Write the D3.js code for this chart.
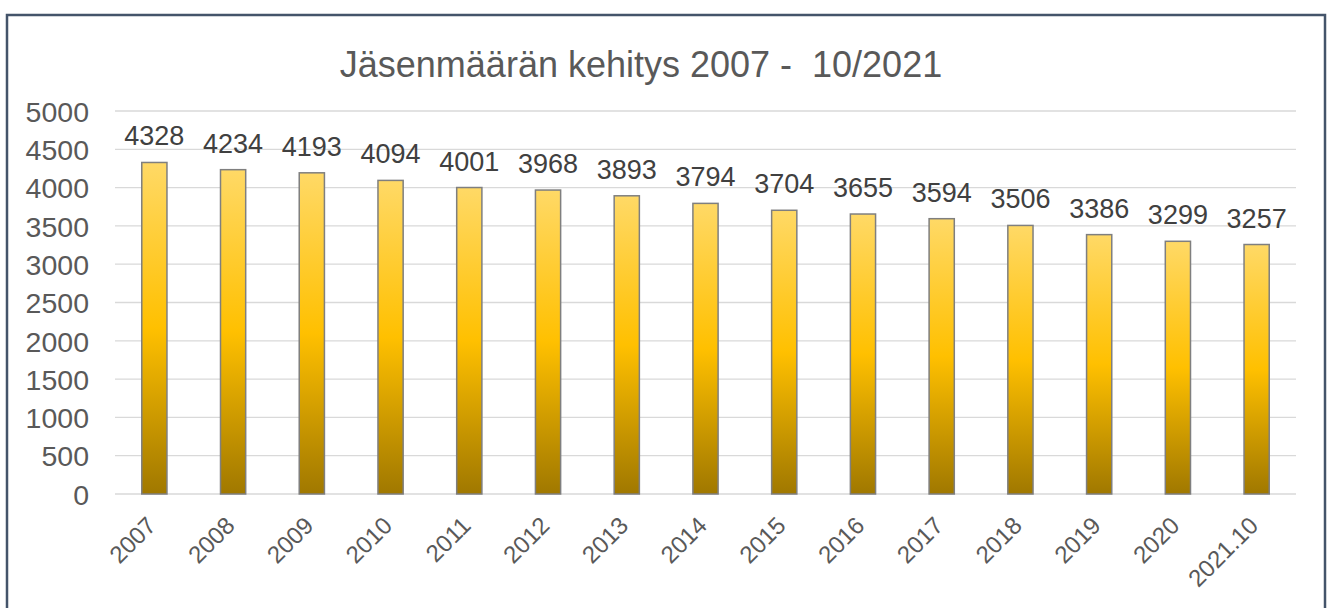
<!DOCTYPE html>
<html>
<head>
<meta charset="utf-8">
<script src="https://cdn.jsdelivr.net/npm/d3@7"></script>
<style>
  body { margin: 0; background: #fff; }
  svg { display: block; font-family: "Liberation Sans", Arial, sans-serif; }
</style>
</head>
<body>
<svg id="chart" width="1331" height="608"></svg>
<script>
// chart data
const years = ["2007", "2008", "2009", "2010", "2011", "2012", "2013", "2014", "2015", "2016", "2017", "2018", "2019", "2020", "2021.10"];
const members = [4328, 4234, 4193, 4094, 4001, 3968, 3893, 3794, 3704, 3655, 3594, 3506, 3386, 3299, 3257];
const yTicks = [0, 500, 1000, 1500, 2000, 2500, 3000, 3500, 4000, 4500, 5000];

const svg = d3.select("#chart");
const fontFam = "Liberation Sans, Arial, sans-serif";

// frame
svg.append("rect")
  .attr("x", 7).attr("y", 15)
  .attr("width", 1318).attr("height", 620)
  .attr("fill", "#fff")
  .attr("stroke", "#44546a")
  .attr("stroke-width", 2.5);

const plotLeft = 115, plotRight = 1296, plotTop = 111, plotBottom = 494;

const x = d3.scaleBand().domain(years).range([plotLeft, plotRight]).paddingInner(0.68).paddingOuter(0.34);
const y = d3.scaleLinear().domain([0, 5000]).range([plotBottom, plotTop]);

// gradient for bars
const grad = svg.append("defs").append("linearGradient")
  .attr("id", "barGrad").attr("x1", 0).attr("y1", 0).attr("x2", 0).attr("y2", 1);
grad.append("stop").attr("offset", "0%").attr("stop-color", "#ffd966");
grad.append("stop").attr("offset", "50%").attr("stop-color", "#ffc000");
grad.append("stop").attr("offset", "100%").attr("stop-color", "#a07800");

// gridlines
svg.append("g")
  .selectAll("line")
  .data(yTicks)
  .join("line")
  .attr("x1", plotLeft).attr("x2", plotRight)
  .attr("y1", d => y(d)).attr("y2", d => y(d))
  .attr("stroke", "#d9d9d9")
  .attr("stroke-width", 1.3);

// y axis labels
const yAxis = svg.append("g")
  .attr("transform", `translate(${plotLeft - 26},0)`)
  .call(d3.axisLeft(y).tickValues(yTicks).tickFormat(d3.format("d")).tickSize(0).tickPadding(0));
yAxis.select(".domain").remove();
yAxis.selectAll("text")
  .attr("font-size", 28.5)
  .attr("fill", "#595959")
  .attr("dy", "0.36em")
  .attr("font-family", fontFam);

// bars
svg.append("g")
  .selectAll("rect")
  .data(members)
  .join("rect")
  .attr("x", (d, i) => x(years[i]))
  .attr("y", d => y(d))
  .attr("width", x.bandwidth())
  .attr("height", d => plotBottom - y(d))
  .attr("fill", "url(#barGrad)")
  .attr("stroke", "#7f7f7f")
  .attr("stroke-width", 1.5);

// value labels
svg.append("g")
  .selectAll("text")
  .data(members)
  .join("text")
  .attr("x", (d, i) => x(years[i]) + x.bandwidth() / 2)
  .attr("y", d => y(d) - 17)
  .attr("text-anchor", "middle")
  .attr("font-size", 27)
  .attr("fill", "#404040")
  .text(d => d);

// x axis labels
const xAxis = svg.append("g")
  .attr("transform", `translate(0,${plotBottom})`)
  .call(d3.axisBottom(x).tickSize(0).tickPadding(0));
xAxis.select(".domain").remove();
xAxis.selectAll("text")
  .attr("font-size", 24)
  .attr("fill", "#595959")
  .attr("font-family", fontFam)
  .attr("text-anchor", "end")
  .attr("y", 0)
  .attr("dy", null)
  .attr("transform", "translate(3,33) rotate(-45)");

// title
svg.append("text")
  .attr("x", 641).attr("y", 77)
  .attr("text-anchor", "middle")
  .attr("font-size", 36)
  .attr("fill", "#595959")
  .style("white-space", "pre")
  .text("Jäsenmäärän kehitys 2007 -  10/2021");
</script>
</body>
</html>
